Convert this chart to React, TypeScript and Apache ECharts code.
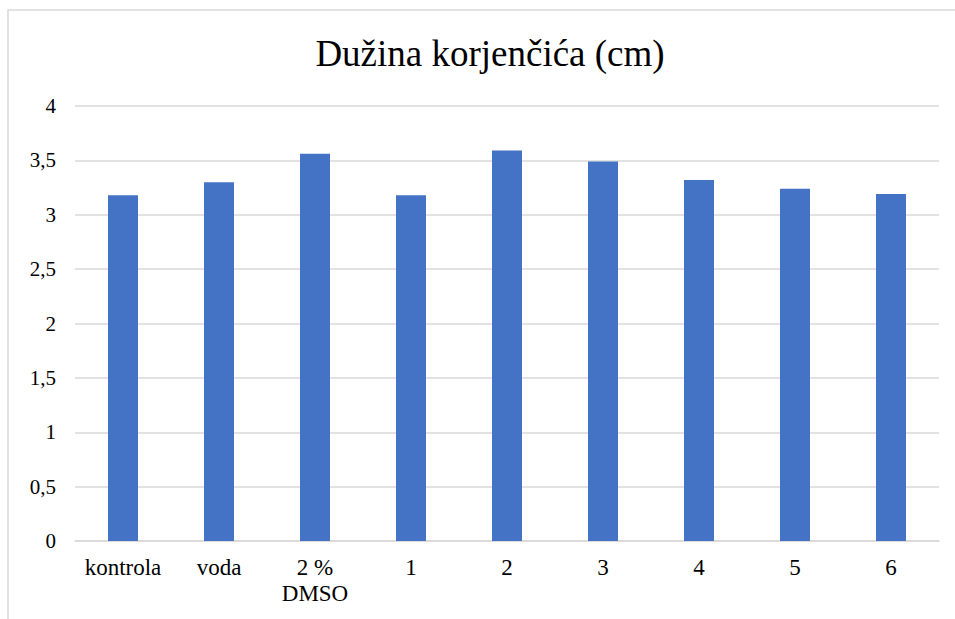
import React, { useEffect, useRef } from "react";
import * as echarts from "echarts";

const categories = ["kontrola", "voda", "2 %\nDMSO", "1", "2", "3", "4", "5", "6"];
const values = [3.18, 3.3, 3.56, 3.18, 3.59, 3.49, 3.32, 3.24, 3.19];
const titleText = "Dužina korjenčića (cm)";

export default function App() {
  const ref = useRef<HTMLDivElement>(null);
  useEffect(() => {
    const chart = echarts.init(ref.current!, null, { renderer: "svg" });
    const font = "Times New Roman, Liberation Serif, serif";
    chart.setOption({
      animation: false,
      backgroundColor: "#ffffff",
      title: {
        text: titleText,
        left: 485,
        textAlign: "center",
        top: 30,
        textStyle: { fontFamily: font, fontSize: 37, fontWeight: "normal", color: "#000" },
      },
      graphic: [
        {
          type: "rect",
          shape: { x: 8, y: 10, width: 1000, height: 700 },
          style: { fill: "none", stroke: "#d9d9d9", lineWidth: 1.5 },
          silent: true,
        },
      ],
      grid: { left: 75, right: 16, top: 106, bottom: 78, containLabel: false },
      xAxis: {
        type: "category",
        data: categories,
        axisLine: { lineStyle: { color: "#d9d9d9", width: 1.5 } },
        axisTick: { show: false },
        axisLabel: {
          fontFamily: font,
          fontSize: 23,
          color: "#000",
          margin: 13,
          lineHeight: 26,
          interval: 0,
        },
      },
      yAxis: {
        type: "value",
        min: 0,
        max: 4,
        interval: 0.5,
        axisLine: { show: false },
        axisTick: { show: false },
        splitLine: { lineStyle: { color: "#d9d9d9", width: 1.5 } },
        axisLabel: {
          fontFamily: font,
          fontSize: 21,
          color: "#000",
          margin: 19,
          formatter: (v: number) => String(v).replace(".", ","),
        },
      },
      series: [
        {
          type: "bar",
          data: values,
          barWidth: 30,
          itemStyle: { color: "#4472C4" },
        },
      ],
    });
    return () => chart.dispose();
  }, []);
  return (
    <div
      ref={ref}
      style={{ position: "absolute", left: 0, top: 0, width: 955, height: 619 }}
    />
  );
}
